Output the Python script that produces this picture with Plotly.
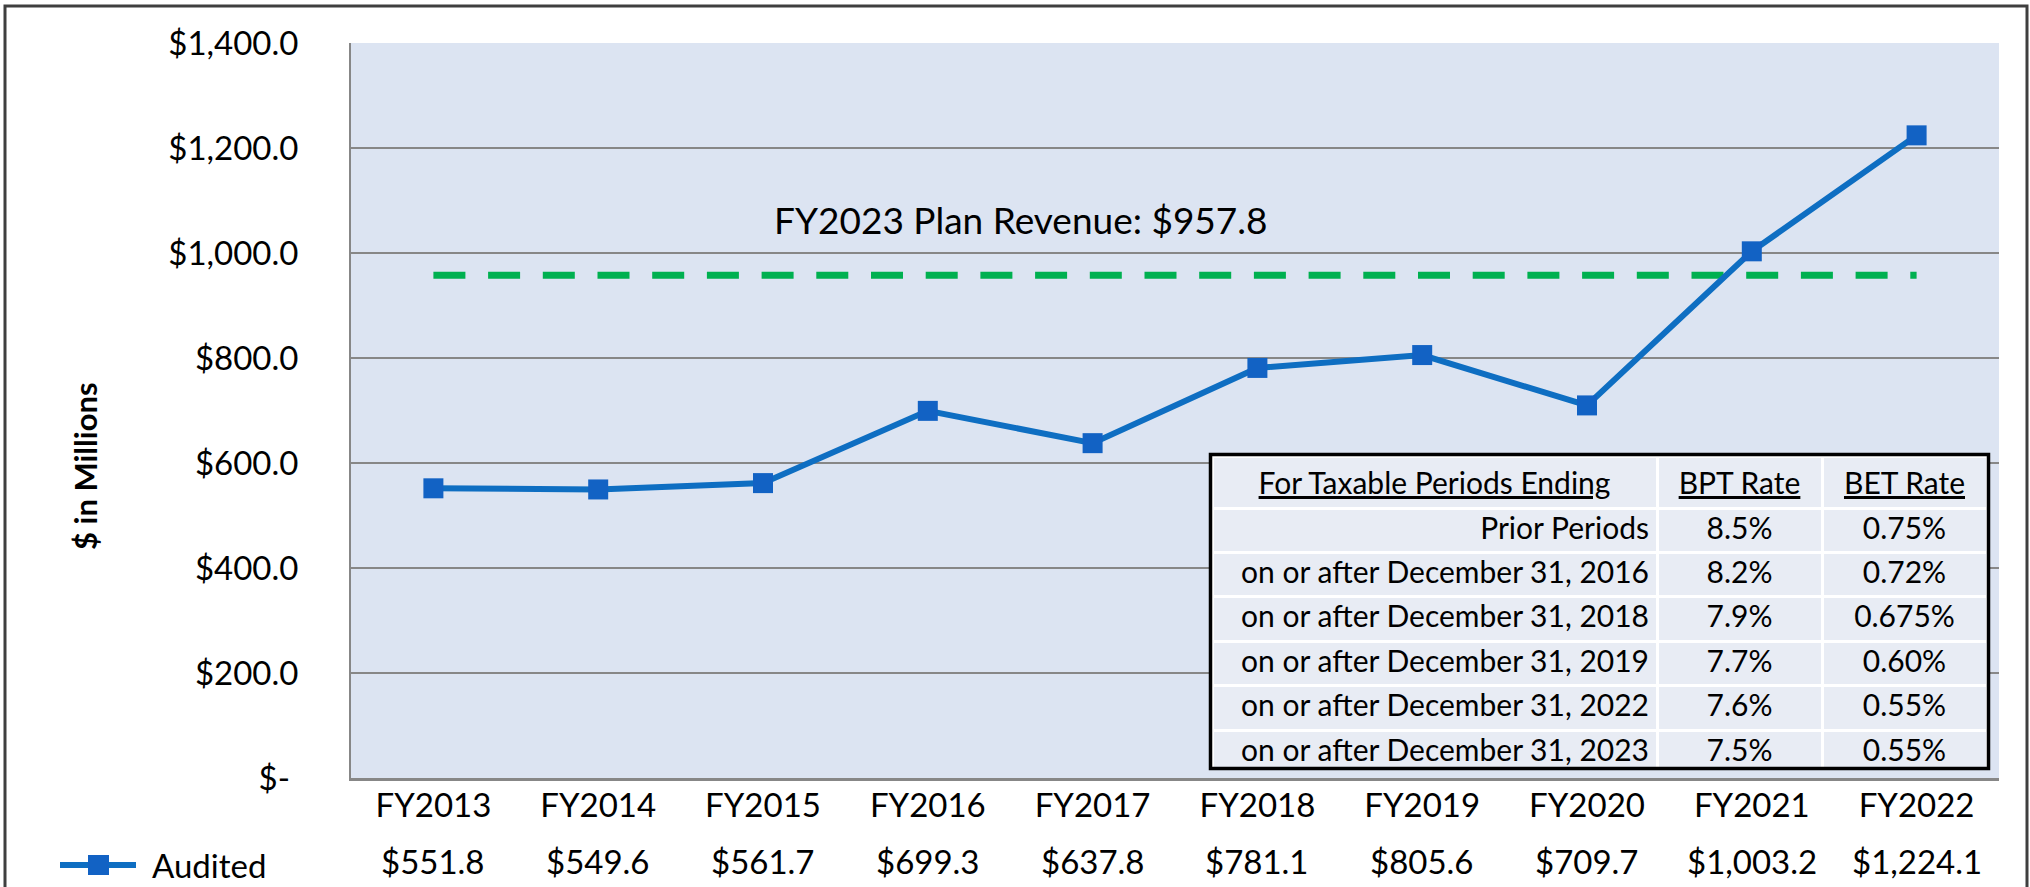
import plotly.graph_objects as go

# ---------------- data ----------------
categories = ["FY2013", "FY2014", "FY2015", "FY2016", "FY2017",
              "FY2018", "FY2019", "FY2020", "FY2021", "FY2022"]
audited = [551.8, 549.6, 561.7, 699.3, 637.8, 781.1, 805.6, 709.7, 1003.2, 1224.1]
plan_revenue = 957.8
plan_label = "FY2023 Plan Revenue: $957.8"
series_name = "Audited"

y_ticks = [0, 200, 400, 600, 800, 1000, 1200, 1400]

table_header = ["For Taxable Periods Ending", "BPT Rate", "BET Rate"]
periods = ["Prior Periods",
           "on or after December 31, 2016",
           "on or after December 31, 2018",
           "on or after December 31, 2019",
           "on or after December 31, 2022",
           "on or after December 31, 2023"]
bpt_rate = ["8.5%", "8.2%", "7.9%", "7.7%", "7.6%", "7.5%"]
bet_rate = ["0.75%", "0.72%", "0.675%", "0.60%", "0.55%", "0.55%"]

# ---------------- layout geometry (pixels) ----------------
W, H = 2030, 887
L, R, T, B = 351, 31, 43, 109
PW, PH = W - L - R, H - T - B


def px(x):
    return (x - L) / PW


def py(y):
    return (H - B - y) / PH


FONT = "Lato, 'Open Sans', sans-serif"
BLUE_LINE = "#0E6EC2"
BLUE_MARK = "#1262C4"
GREEN = "#00B050"
GRID = "#878787"

def money(v):
    return "$-\u00a0" if v == 0 else f"${v:,.1f}"

fig = go.Figure()

# plan revenue dashed line
fig.add_trace(go.Scatter(
    x=categories, y=[plan_revenue] * len(categories), mode="lines",
    line=dict(color=GREEN, width=7, dash="32px,22.7px"),
    showlegend=False, hoverinfo="skip"))

# audited line
fig.add_trace(go.Scatter(
    x=categories, y=audited, mode="lines+markers", name=series_name,
    line=dict(color=BLUE_LINE, width=6),
    marker=dict(symbol="square", size=20, color=BLUE_MARK),
    showlegend=False))

# rate table
fig.add_trace(go.Table(
    domain=dict(x=[px(1212), px(1987)], y=[py(767), py(456)]),
    columnwidth=[445, 165, 165],
    header=dict(values=[f"<u>{h}</u>" for h in table_header],
                fill_color="#E8ECF4", line=dict(color="white", width=3),
                align=["center", "center", "center"],
                font=dict(family=FONT, size=30, color="black"), height=44.4),
    cells=dict(values=[periods, bpt_rate, bet_rate],
               fill_color="#E8ECF4", line=dict(color="white", width=3),
               align=["right", "center", "center"],
               font=dict(family=FONT, size=30, color="black"), height=44.4),
))

annotations = []
# data table value row
for c, v in zip(categories, audited):
    annotations.append(dict(x=c, xref="x", y=py(861), yref="paper",
                            text=money(v), showarrow=False, yanchor="middle",
                            font=dict(family=FONT, size=33, color="black")))
# legend text
annotations.append(dict(x=px(150), xref="paper", y=py(865), yref="paper",
                        text=series_name, showarrow=False, xanchor="left",
                        yanchor="middle",
                        font=dict(family=FONT, size=33, color="black")))
# y axis title
annotations.append(dict(x=px(85), xref="paper", y=py(466), yref="paper",
                        text="<b>$ in Millions</b>", textangle=-90,
                        showarrow=False, xanchor="center", yanchor="middle",
                        font=dict(family=FONT, size=31, color="black")))
# plan label
annotations.append(dict(x=px(1020), xref="paper", y=py(219), yref="paper",
                        text=plan_label, showarrow=False, xanchor="center",
                        yanchor="middle",
                        font=dict(family=FONT, size=37, color="black")))

shapes = [
    # outer frame
    dict(type="rect", xref="paper", yref="paper",
         x0=px(5), x1=px(2027), y0=py(900), y1=py(6),
         line=dict(color="#3F3F3F", width=3), layer="above"),
    # table frame
    dict(type="rect", xref="paper", yref="paper",
         x0=px(1210.5), x1=px(1988.5), y0=py(768.5), y1=py(454.5),
         line=dict(color="black", width=3.5), layer="above"),
    # legend key line
    dict(type="line", xref="paper", yref="paper",
         x0=px(60), x1=px(136), y0=py(865), y1=py(865),
         line=dict(color=BLUE_LINE, width=6), layer="above"),
    # legend key marker
    dict(type="rect", xref="paper", yref="paper",
         x0=px(88), x1=px(109), y0=py(875), y1=py(855),
         line=dict(width=0), fillcolor=BLUE_MARK, layer="above"),
]

fig.update_layout(
    width=W, height=H,
    margin=dict(l=L, r=R, t=T, b=B, pad=0),
    paper_bgcolor="white", plot_bgcolor="#DCE4F2",
    font=dict(family=FONT, size=33, color="black"),
    annotations=annotations, shapes=shapes,
    showlegend=False,
)
fig.update_xaxes(type="category", range=[-0.5, len(categories) - 0.5],
                 showgrid=False, showline=True, linecolor=GRID, linewidth=3,
                 ticks="", ticklabelstandoff=-4,
                 tickfont=dict(family=FONT, size=33, color="black"),
                 fixedrange=True)
fig.update_yaxes(range=[0, 1400], tickvals=y_ticks,
                 ticktext=[money(v) for v in y_ticks],
                 showgrid=True, gridcolor=GRID, gridwidth=2,
                 showline=True, linecolor=GRID, linewidth=2, zeroline=False,
                 ticks="outside", ticklen=44, tickcolor="rgba(0,0,0,0)",
                 tickfont=dict(family=FONT, size=33, color="black"),
                 fixedrange=True)

fig.write_html("out.html", config={"displayModeBar": False},
               post_script="document.body.style.margin='0';document.body.style.overflow='hidden';")
